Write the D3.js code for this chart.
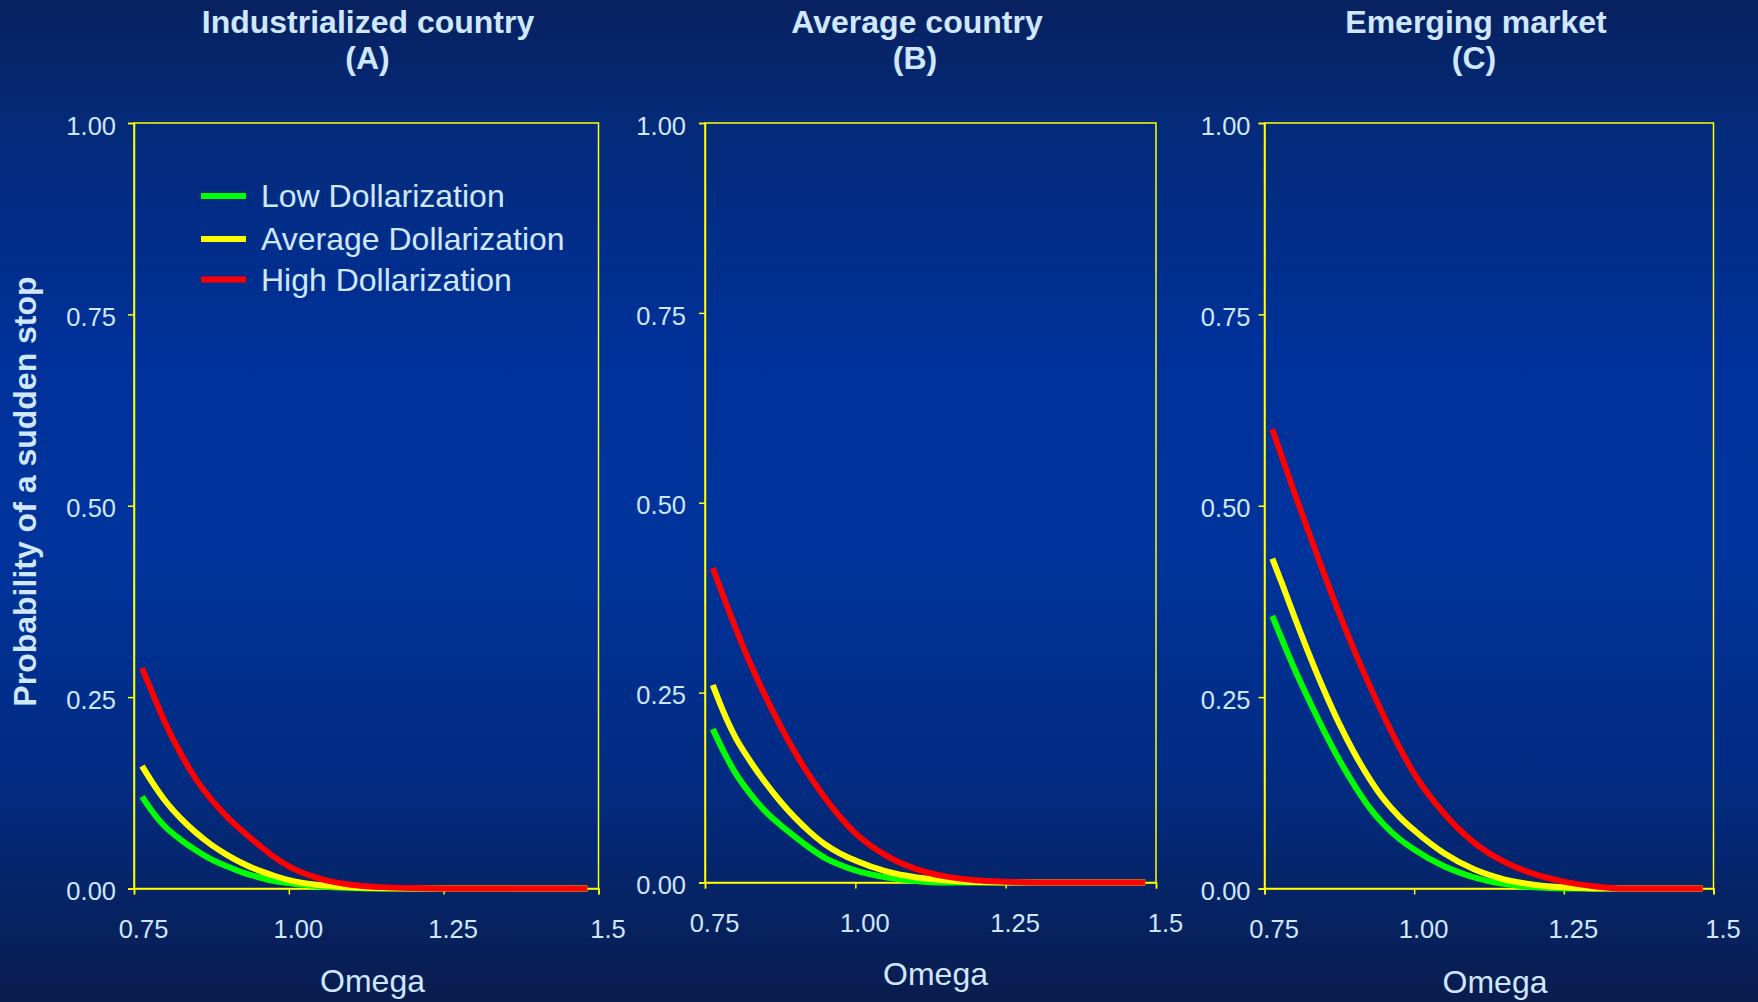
<!DOCTYPE html>
<html>
<head>
<meta charset="utf-8">
<script src="https://cdn.jsdelivr.net/npm/d3@7"></script>
<style>
  html, body { margin: 0; padding: 0; background: #00308f; }
  svg { display: block; }
</style>
</head>
<body>
<svg id="chart" width="1758" height="1002"></svg>
<script>
// ---------------- DATA ----------------
const omega = [0.763, 0.78, 0.80, 0.825, 0.85, 0.875, 0.90, 0.925, 0.95, 0.975, 1.00, 1.05, 1.10, 1.15, 1.20, 1.25, 1.30, 1.35, 1.40, 1.45, 1.482];

const seriesNames = ["Low Dollarization", "Average Dollarization", "High Dollarization"];
const panelTitles = ["Industrialized country", "Average country", "Emerging market"];
const panelLetters = ["(A)", "(B)", "(C)"];

// Panel A: Industrialized country
const indLow  = [0.120, 0.100, 0.081, 0.064, 0.050, 0.038, 0.029, 0.021, 0.015, 0.010, 0.007, 0.0025, 0.0007, 0, 0, 0, 0, 0, 0, 0, 0];
const indAvg  = [0.160, 0.138, 0.115, 0.092, 0.073, 0.057, 0.044, 0.033, 0.024, 0.017, 0.011, 0.0045, 0.0015, 0.0003, 0, 0, 0, 0, 0, 0, 0];
const indHigh = [0.288, 0.255, 0.217, 0.177, 0.143, 0.116, 0.094, 0.075, 0.058, 0.042, 0.029, 0.013, 0.005, 0.0018, 0.0005, 0, 0, 0, 0, 0, 0];

// Panel B: Average country
const avgLow  = [0.202, 0.174, 0.145, 0.117, 0.094, 0.076, 0.060, 0.045, 0.032, 0.023, 0.016, 0.007, 0.002, 0, 0, 0, 0, 0, 0, 0, 0];
const avgAvg  = [0.260, 0.226, 0.192, 0.160, 0.132, 0.107, 0.085, 0.066, 0.050, 0.038, 0.029, 0.015, 0.007, 0.003, 0.0005, 0, 0, 0, 0, 0, 0];
const avgHigh = [0.414, 0.378, 0.337, 0.289, 0.246, 0.207, 0.171, 0.139, 0.111, 0.086, 0.065, 0.036, 0.018, 0.008, 0.003, 0.001, 0, 0, 0, 0, 0];

// Panel C: Emerging market
const emLow   = [0.356, 0.324, 0.287, 0.245, 0.205, 0.168, 0.135, 0.106, 0.083, 0.065, 0.051, 0.029, 0.0146, 0.006, 0.0015, 0, 0, 0, 0, 0, 0];
const emAvg   = [0.431, 0.397, 0.355, 0.305, 0.258, 0.215, 0.177, 0.144, 0.116, 0.094, 0.076, 0.046, 0.025, 0.012, 0.005, 0.0015, 0, 0, 0, 0, 0];
const emHigh  = [0.600, 0.562, 0.517, 0.463, 0.410, 0.359, 0.311, 0.266, 0.224, 0.185, 0.150, 0.098, 0.060, 0.035, 0.019, 0.009, 0.003, 0, 0, 0, 0];

const yTicks = [0, 0.25, 0.5, 0.75, 1.0];
const yTickLabels = ["0.00", "0.25", "0.50", "0.75", "1.00"];
const xTicks = [0.75, 1.0, 1.25, 1.5];
const xTickLabels = ["0.75", "1.00", "1.25", "1.5"];
const xTitle = "Omega";
const yTitle = "Probability of a sudden stop";

const panelData = [
  [indLow, indAvg, indHigh],
  [avgLow, avgAvg, avgHigh],
  [emLow, emAvg, emHigh]
];

// ---------------- STYLE / LAYOUT ----------------
const colors = ["#00ff00", "#ffff00", "#ff0000"];
const textColor = "#cfe7ff";
const axisColor = "#ffff00";
const FONT = "'Liberation Sans', Arial, Helvetica, sans-serif";

const layout = [
  { left: 134, right: 598.5, top: 123, bottom: 888.5, yPad: 12, titleX: 368, letterX: 367.5, xtX: 372.5, xtY: 992 },
  { left: 705, right: 1156, top: 123, bottom: 882.5, yPad: 13, titleX: 917, letterX: 915, xtX: 935.5, xtY: 985 },
  { left: 1264.5, right: 1713.5, top: 123, bottom: 888.5, yPad: 8, titleX: 1476, letterX: 1474, xtX: 1495, xtY: 993 }
];

const svg = d3.select("#chart");

// background gradient
const defs = svg.append("defs");
const grad = defs.append("linearGradient").attr("id", "bg")
  .attr("x1", 0).attr("y1", 0).attr("x2", 0).attr("y2", 1);
[[0, "#08215f"], [0.12, "#042a78"], [0.35, "#00319a"], [0.55, "#00339b"], [0.78, "#022b82"], [0.92, "#072260"], [1, "#0a1c4e"]]
  .forEach(([o, c]) => grad.append("stop").attr("offset", o).attr("stop-color", c));
svg.append("rect").attr("width", 1758).attr("height", 1002).attr("fill", "url(#bg)");

layout.forEach((L, pi) => {
  const x = d3.scaleLinear().domain([0.75, 1.5]).range([L.left, L.right]);
  const y = d3.scaleLinear().domain([0, 1]).range([L.bottom, L.top]);
  const g = svg.append("g");

  // frame (top and right)
  g.append("rect")
    .attr("x", L.left).attr("y", L.top)
    .attr("width", L.right - L.left).attr("height", L.bottom - L.top)
    .attr("fill", "none").attr("stroke", axisColor).attr("stroke-width", 1.5);

  // y axis
  const yAxis = d3.axisLeft(y).tickValues(yTicks)
    .tickFormat((d, i) => yTickLabels[i]).tickSize(6).tickPadding(L.yPad);
  const ya = g.append("g").attr("transform", `translate(${L.left},0)`).call(yAxis);
  ya.select(".domain").attr("stroke", axisColor).attr("stroke-width", 1.5);
  ya.selectAll(".tick line").attr("stroke", axisColor).attr("stroke-width", 1.5);
  ya.selectAll(".tick text").attr("fill", textColor).attr("font-family", FONT)
    .attr("font-size", 25.5).attr("dy", "0.44em");

  // x axis
  const xAxis = d3.axisBottom(x).tickValues(xTicks)
    .tickFormat((d, i) => xTickLabels[i]).tickSize(6);
  const xa = g.append("g").attr("transform", `translate(0,${L.bottom})`).call(xAxis);
  xa.select(".domain").attr("stroke", axisColor).attr("stroke-width", 1.5);
  xa.selectAll(".tick line").attr("stroke", axisColor).attr("stroke-width", 1.5);
  xa.selectAll(".tick text").attr("fill", textColor).attr("font-family", FONT)
    .attr("font-size", 25.5).attr("y", 49).attr("dy", 0).attr("x", 9);

  // lines
  const line = d3.line().x((d, i) => x(omega[i])).y(d => y(d)).curve(d3.curveMonotoneX);
  panelData[pi].forEach((vals, si) => {
    g.append("path").datum(vals)
      .attr("d", line)
      .attr("fill", "none")
      .attr("stroke", colors[si])
      .attr("stroke-width", 6)
      .attr("stroke-linejoin", "round")
      .attr("stroke-linecap", "butt");
  });

  // titles
  g.append("text").attr("x", L.titleX).attr("y", 33)
    .attr("text-anchor", "middle").attr("font-family", FONT)
    .attr("font-weight", "bold").attr("font-size", 32).attr("fill", textColor)
    .text(panelTitles[pi]);
  g.append("text").attr("x", L.letterX).attr("y", 69)
    .attr("text-anchor", "middle").attr("font-family", FONT)
    .attr("font-weight", "bold").attr("font-size", 32).attr("fill", textColor)
    .text(panelLetters[pi]);

  // x title
  g.append("text").attr("x", L.xtX).attr("y", L.xtY)
    .attr("text-anchor", "middle").attr("font-family", FONT)
    .attr("font-size", 32).attr("fill", textColor).text(xTitle);
});

// y title
svg.append("text")
  .attr("transform", "translate(36,491.5) rotate(-90)")
  .attr("text-anchor", "middle").attr("font-family", FONT)
  .attr("font-weight", "bold").attr("font-size", 32).attr("fill", textColor)
  .text(yTitle);

// legend (inside panel A)
const legend = svg.append("g");
const legendY = [196, 239, 279.5];
seriesNames.forEach((name, i) => {
  legend.append("line")
    .attr("x1", 201).attr("x2", 246).attr("y1", legendY[i]).attr("y2", legendY[i])
    .attr("stroke", colors[i]).attr("stroke-width", 6);
  legend.append("text")
    .attr("x", 261).attr("y", legendY[i] + 11)
    .attr("font-family", FONT).attr("font-size", 32).attr("fill", textColor)
    .text(name);
});
</script>
</body>
</html>
